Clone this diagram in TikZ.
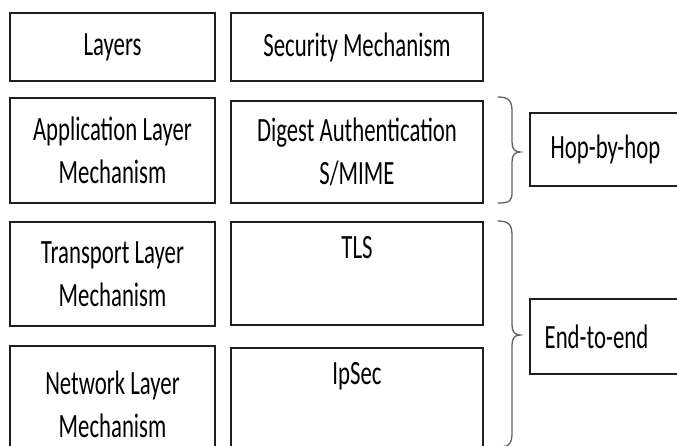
\documentclass[tikz,border=0pt]{standalone}
\usepackage{fontspec}
\setmainfont{Carlito}[FakeStretch=0.67]
\begin{document}
\begin{tikzpicture}[x=1pt,y=-1pt,
  box/.style={draw=black!88, line width=1.7pt, inner sep=0pt, align=center,
    font=\fontsize{34}{43}\selectfont},
  txt/.style={inner sep=0pt, align=center, font=\fontsize{34}{43}\selectfont},
  brace/.style={draw=black!62, line width=1.3pt, line cap=round}]
\useasboundingbox (0,0) rectangle (677,445);
\clip (0,0) rectangle (677,445);
\fill[white] (0,0) rectangle (677,445);

% left column: layers
\node[box, minimum width=205pt, minimum height=68pt]  (layers)    at (112.5,47)    {Layers};
\node[box, minimum width=205pt, minimum height=105pt] (app)       at (112.5,150.5) {Application Layer\\Mechanism};
\node[box, minimum width=205pt, minimum height=104pt] (transport) at (112.5,274)   {Transport Layer\\Mechanism};
\node[box, minimum width=205pt, minimum height=104pt] (network)   at (112.5,398)   {};
\node[txt] (networktxt) at (112.5,404) {Network Layer\\Mechanism};

% right column: mechanisms
\node[box, minimum width=252pt, minimum height=68pt]  (security) at (357,47)    {Security Mechanism};
\node[box, minimum width=252pt, minimum height=102pt] (digest)   at (357,152)   {Digest Authentication\\S/MIME};
\node[box, minimum width=252pt, minimum height=103pt] (tls)      at (357,273.5) {};
\node[box, minimum width=252pt, minimum height=103pt] (ipsec)    at (357,399.5) {};
\node[txt, anchor=north] (tlstxt)   at ([yshift=-15pt]tls.north)   {TLS};
\node[txt, anchor=north] (ipsectxt) at ([yshift=-15pt]ipsec.north) {IpSec};

% scope labels
\node[box, minimum width=155pt, minimum height=73pt] (hop) at (607.5,149.5) {};
\node[box, minimum width=155pt, minimum height=75pt] (e2e) at (607.5,336.5) {};
\node[txt] (hoptxt) at ([xshift=-2pt]hop.center) {Hop-by-hop};
\node[txt] (e2etxt) at ([xshift=-11pt]e2e.center) {End-to-end};

% braces
\coordinate (b1top) at (498,97);
\coordinate (b1tip) at (520,152);
\coordinate (b1bot) at (498,203);
\coordinate (b2top) at (498,221);
\coordinate (b2tip) at (520,335);
\coordinate (b2bot) at (498,447);

\draw[brace] (b1top) .. controls (510,97) and (512,102) .. (512,112)
  -- (512,142) .. controls (512,149) and (515,152) .. (b1tip)
  .. controls (515,152) and (512,155) .. (512,162)
  -- (512,192) .. controls (512,201) and (510,203) .. (b1bot);
\draw[brace] (b2top) .. controls (510,221) and (512,226) .. (512,236)
  -- (512,325) .. controls (512,332) and (515,335) .. (b2tip)
  .. controls (515,335) and (512,338) .. (512,345)
  -- (512,432) .. controls (512,443) and (510,447) .. (b2bot);
\end{tikzpicture}
\end{document}
